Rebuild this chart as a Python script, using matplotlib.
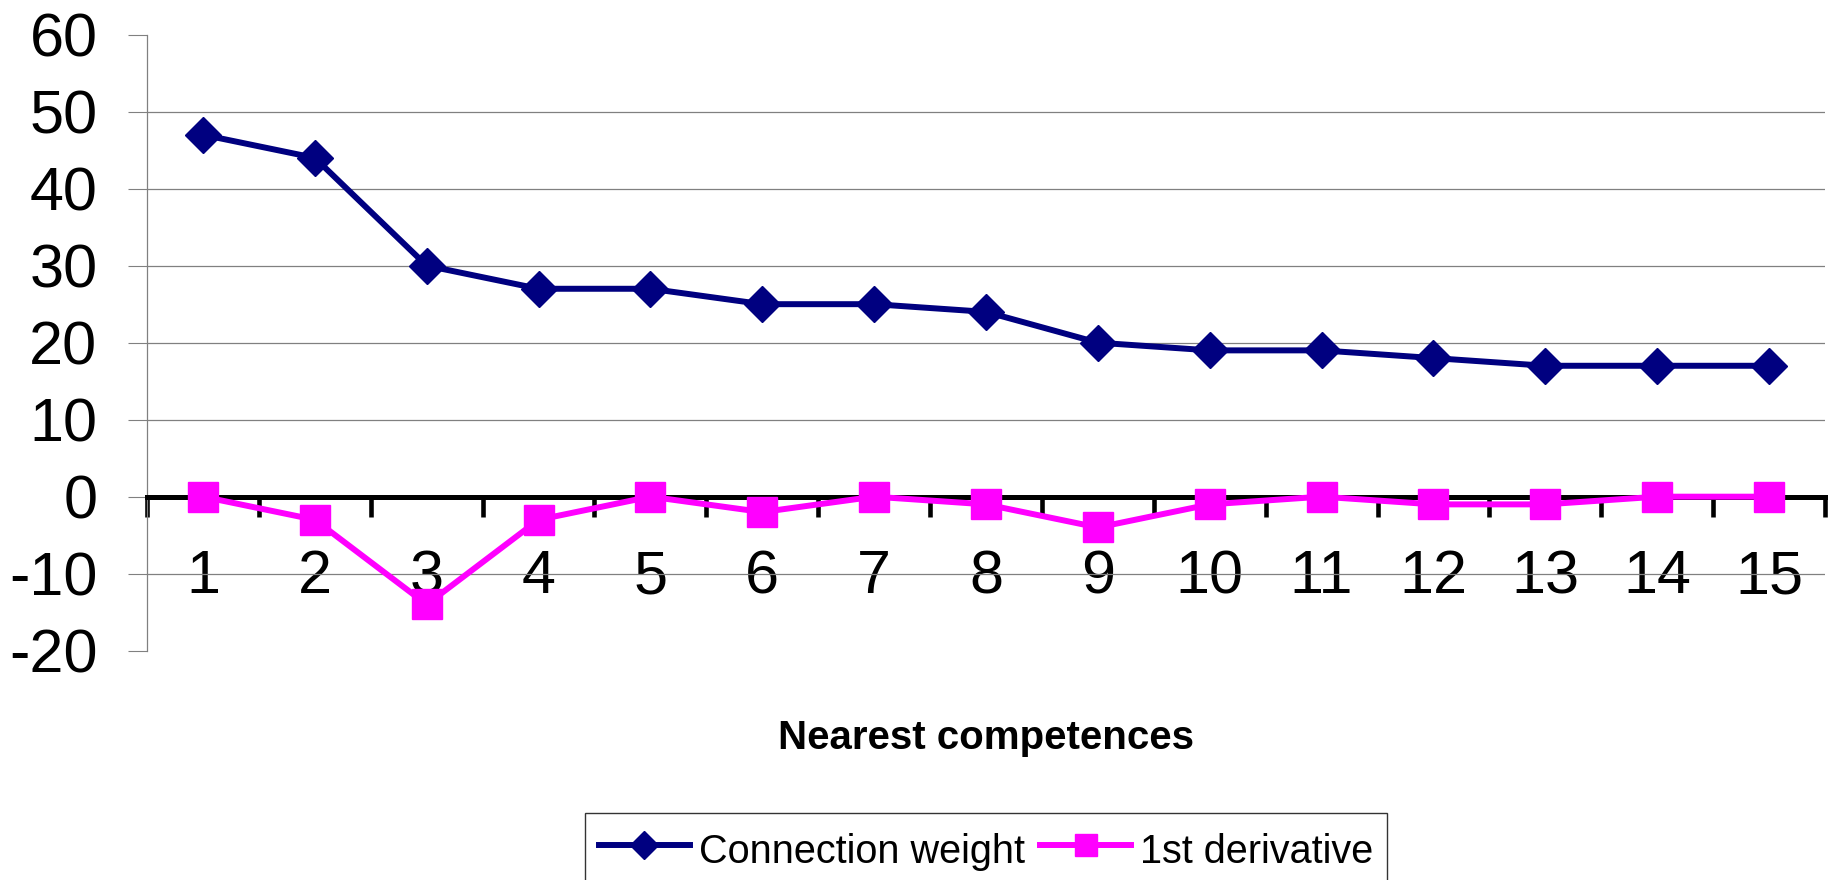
import matplotlib
matplotlib.use("Agg")
import matplotlib.pyplot as plt
import numpy as np

plt.rcParams['font.family'] = ['Liberation Sans', 'DejaVu Sans']

# data
categories = list(range(1, 16))
connection_weight = [47, 44, 30, 27, 27, 25, 25, 24, 20, 19, 19, 18, 17, 17, 17]
first_derivative = [0, -3, -14, -3, 0, -2, 0, -1, -4, -1, 0, -1, -1, 0, 0]
y_ticks = [-20, -10, 0, 10, 20, 30, 40, 50, 60]
y_tick_labels = ['-20', '-10', '0', '10', '20', '30', '40', '50', '60']

navy = '#000080'
magenta = '#FF00FF'
grid_grey = '#808080'

fig = plt.figure(figsize=(18.29, 8.8), dpi=100)
ax = fig.add_axes([0.0804, 0.2606, 0.9174, 0.7000])

ax.plot(categories, connection_weight, color=navy, lw=4.3, marker='D',
        ms=18.5, mec=navy, mfc=navy, label='Connection weight', zorder=4)
ax.plot(categories, first_derivative, color=magenta, lw=4.3, marker='s',
        ms=22, mec=magenta, mfc=magenta, label='1st derivative', zorder=4)

ax.set_xlim(0.5, 15.5)
ax.set_ylim(-20, 60)

# y axis
ax.set_yticks(y_ticks)
ax.set_yticklabels(y_tick_labels, fontsize=44)
ax.tick_params(axis='y', direction='out', length=13.7, width=0.8,
               color=grid_grey, pad=22)
ax.yaxis.grid(True, color=grid_grey, lw=0.9)
for val, gl in zip(y_ticks, ax.get_ygridlines()):
    if val in (-20, 0, 60):
        gl.set_visible(False)

# x axis sits on zero, ticks between categories, labels at categories
ax.spines['bottom'].set_position(('data', 0))
ax.spines['bottom'].set_linewidth(3.6)
ax.spines['bottom'].set_color('black')
ax.spines['left'].set_color(grid_grey)
ax.spines['left'].set_linewidth(0.9)
ax.spines['top'].set_visible(False)
ax.spines['right'].set_visible(False)

ax.set_xticks(np.arange(0.5, 16, 1.0))
ax.set_xticklabels([])
ax.tick_params(axis='x', which='major', direction='out', length=14.5,
               width=3.3, color='black')
ax.set_xticks(categories, minor=True)
ax.set_xticklabels([str(c) for c in categories], minor=True, fontsize=44)
ax.tick_params(axis='x', which='minor', length=0, pad=38)

ax.set_xlabel('Nearest competences', fontsize=29, fontweight='bold',
              va='baseline')
ax.xaxis.set_label_coords(0.5, -0.160)

leg = fig.legend(loc='upper left', bbox_to_anchor=(585 / 1829, 1 - 813 / 880),
                 ncol=2, fontsize=28.5, frameon=True, fancybox=False,
                 edgecolor='black', borderaxespad=0, borderpad=0.35,
                 handlelength=2.3, handleheight=1.45, handletextpad=0.22,
                 columnspacing=0.4, markerscale=0.75)
leg.get_frame().set_linewidth(1.0)

fig.savefig('out.png', dpi=100)
